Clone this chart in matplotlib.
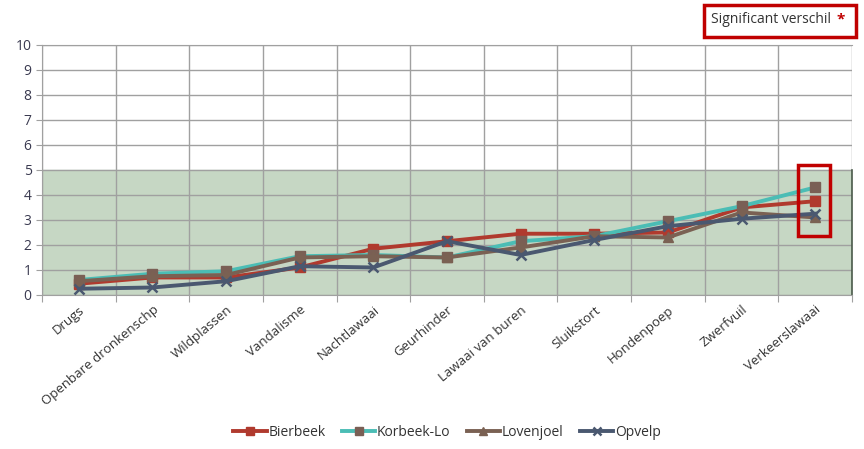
import matplotlib
matplotlib.use('Agg')
import matplotlib.pyplot as plt
from matplotlib.patches import Rectangle

plt.rcParams['font.family'] = ['Open Sans', 'DejaVu Sans']

# Categorieën en scores per deelgemeente
categorieen = ['Drugs', 'Openbare dronkenschp', 'Wildplassen', 'Vandalisme', 'Nachtlawaai',
               'Geurhinder', 'Lawaai van buren', 'Sluikstort', 'Hondenpoep', 'Zwerfvuil',
               'Verkeerslawaai']
bierbeek = [0.45, 0.7, 0.7, 1.1, 1.85, 2.15, 2.45, 2.45, 2.5, 3.5, 3.75]
korbeek_lo = [0.6, 0.85, 0.95, 1.55, 1.6, 1.5, 2.15, 2.35, 2.95, 3.55, 4.3]
lovenjoel = [0.55, 0.75, 0.8, 1.5, 1.55, 1.5, 1.9, 2.35, 2.3, 3.3, 3.1]
opvelp = [0.25, 0.3, 0.55, 1.15, 1.1, 2.15, 1.6, 2.2, 2.75, 3.05, 3.25]

fig = plt.figure(figsize=(8.64, 4.49), dpi=100)
ax = fig.add_axes([0.0486, 0.343, 0.9375, 0.557])

x = range(len(categorieen))
n = len(categorieen)

# groene zone tot 5
ax.axhspan(0, 5, color='#C6D7C4', zorder=0)

ax.plot(x, bierbeek, color='#B03A2E', lw=2.8, marker='s', ms=7.5, mfc='#B03A2E', mec='#B03A2E',
        label='Bierbeek', zorder=3)
ax.plot(x, korbeek_lo, color='#4BBDB5', lw=2.8, marker='s', ms=7.5, mfc='#7A5F55', mec='#7A5F55',
        label='Korbeek-Lo', zorder=3)
ax.plot(x, lovenjoel, color='#7A6153', lw=2.8, marker='^', ms=7.5, mfc='#7A6153', mec='#7A6153',
        label='Lovenjoel', zorder=3)
ax.plot(x, opvelp, color='#4A5870', lw=2.8, marker='x', ms=7.5, mew=1.8, mfc='#4A5870', mec='#4A5870',
        label='Opvelp', zorder=3)

ax.set_xlim(-0.5, n - 0.5)
ax.set_ylim(0, 10)
ax.set_yticks(range(0, 11))
ax.set_xticks([i + 0.5 for i in range(-1, n)], minor=False)
ax.set_xticklabels([])
ax.set_xticks(list(x), minor=True)
ax.set_xticklabels(categorieen, minor=True, rotation=40, ha='right', va='top',
                   rotation_mode='anchor', fontsize=9.5, color='#333333')
ax.tick_params(axis='x', which='minor', length=0, pad=6)
ax.tick_params(axis='x', which='major', length=5, color='#A0A0A0')
ax.tick_params(axis='y', length=4, color='#A0A0A0', labelsize=10, labelcolor='#3A3A50')

ax.grid(True, which='major', color='#A0A0A0', lw=1, zorder=1)
ax.set_axisbelow(True)
for s in ['top', 'bottom']:
    ax.spines[s].set_color('#A0A0A0')
ax.spines['left'].set_color('#A0A0A0')
ax.spines['right'].set_visible(False)
ax.plot([n - 0.5, n - 0.5], [0, 5], color='#4A5A4A', lw=1.2, zorder=2, clip_on=False)

# rood kader rond laatste categorie
ax.add_patch(Rectangle((n - 1 - 0.23, 2.35), 0.43, 2.85, fill=False, ec='#C00000', lw=2.5, zorder=4))

leg = ax.legend(loc='upper center', bbox_to_anchor=(0.5, -0.47), ncol=4, frameon=False,
                fontsize=10, handlelength=2.4, columnspacing=1.2, handletextpad=0.1,
                markerscale=0.85)
for t in leg.get_texts():
    t.set_color('#333333')

# kader "Significant verschil *"
fig.text(0.823, 0.957, 'Significant verschil ', fontsize=10, color='#333333', va='center', ha='left')
fig.text(0.968, 0.957, '*', fontsize=11, color='#C00000', va='center', ha='left', fontweight='bold')
fig.patches.append(Rectangle((0.815, 0.918), 0.176, 0.071, transform=fig.transFigure,
                             fill=False, ec='#C00000', lw=2.5))

fig.savefig('out.png', dpi=100)
